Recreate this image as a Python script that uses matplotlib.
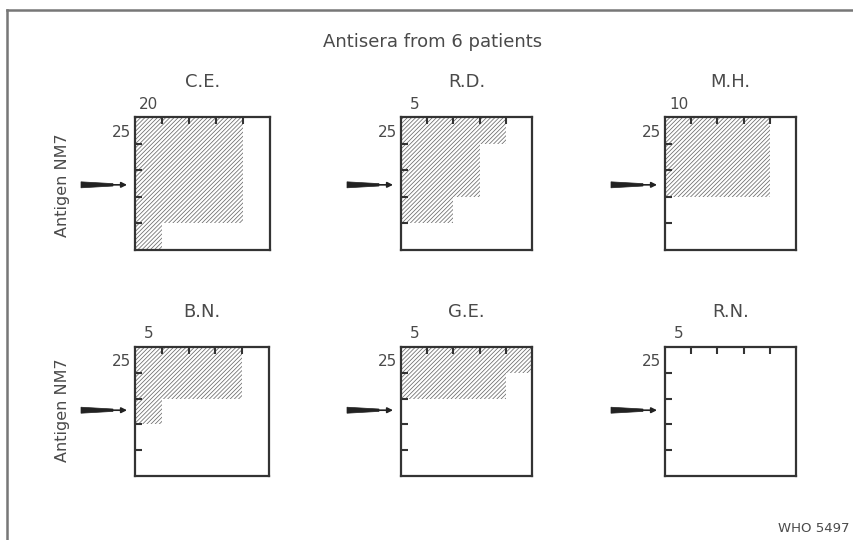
import matplotlib
matplotlib.use("Agg")
import matplotlib.pyplot as plt
from matplotlib.patches import Polygon
from matplotlib.lines import Line2D
import numpy as np

# ---- data: number of positive columns in each row (top to bottom) ----
patients = ["C.E.", "R.D.", "M.H.", "B.N.", "G.E.", "R.N."]
top_labels = ["20", "5", "10", "5", "5", "5"]
left_label = "25"
CE = [4, 4, 4, 4, 1]
RD = [4, 3, 3, 2, 0]
MH = [4, 4, 4, 0, 0]
BN = [4, 4, 1, 0, 0]
GE = [5, 4, 0, 0, 0]
RN = [0, 0, 0, 0, 0]
positives = [CE, RD, MH, BN, GE, RN]
arrow_row = [2.55, 2.55, 2.55, 2.45, 2.45, 2.45]

W, H = 854, 540
plt.rcParams['hatch.linewidth'] = 0.55
fig = plt.figure(figsize=(W / 100, H / 100), dpi=100)
fig.patch.set_facecolor("white")

TXT = "#4a4a4a"
INK = "#333333"

# frame (left and top edges visible)
fig.add_artist(Line2D([7.5 / W, 7.5 / W], [0, 1 - 10 / H], transform=fig.transFigure,
                      color="#777777", lw=1.8))
fig.add_artist(Line2D([7.5 / W, 1], [1 - 10 / H, 1 - 10 / H], transform=fig.transFigure,
                      color="#777777", lw=1.8))

fig.text(433 / W, 1 - 42 / H, "Antisera from 6 patients", ha="center", va="center",
         fontsize=13, color=TXT)
fig.text(814 / W, 1 - 528 / H, "WHO 5497", ha="center", va="center",
         fontsize=9.5, color=TXT)

# box positions in pixels: left, top, right, bottom
boxes = [(135, 117, 270, 250), (401, 117, 532, 250), (665, 117, 796, 250),
         (135, 347, 269, 476), (401, 347, 532, 476), (665, 347, 796, 476)]

for i, (name, vals, (l, t, r, b)) in enumerate(zip(patients, positives, boxes)):
    w, h = r - l, b - t
    ax = fig.add_axes([l / W, 1 - b / H, w / W, h / H])
    ax.set_xlim(0, 5)
    ax.set_ylim(5, 0)
    rows = np.arange(5) + 0.5
    ax.barh(rows, vals, height=1.0, left=0, facecolor="none", edgecolor="#6a6a6a",
            hatch="////////", linewidth=0)
    for s in ax.spines.values():
        s.set_linewidth(1.6)
        s.set_color(INK)
    ax.xaxis.tick_top()
    ax.set_xticks([1, 2, 3, 4])
    ax.set_yticks([1, 2, 3, 4])
    ax.tick_params(axis="both", direction="in", length=5, width=1.5, color=INK,
                   labeltop=False, labelleft=False, labelbottom=False)
    ax.text(14 / w, 1 + 13 / h, top_labels[i], transform=ax.transAxes,
            ha="center", va="center", fontsize=11, color=TXT)
    ax.text(-4 / w, 1 - 15 / h, left_label, transform=ax.transAxes,
            ha="right", va="center", fontsize=11, color=TXT)
    ax.text(0.5, 1 + 35 / h, name, transform=ax.transAxes,
            ha="center", va="center", fontsize=13, color=TXT)
    # arrow
    ya = arrow_row[i]
    ux = 5 / w  # data units per pixel (x)
    uy = 5 / h
    x0 = -54 * ux
    x1 = -22 * ux
    poly = Polygon([(x0, ya - 3.0 * uy), (x0, ya + 3.0 * uy),
                    (x1, ya + 1.2 * uy), (x1, ya - 1.2 * uy)],
                   closed=True, facecolor="#222222", edgecolor="#222222", lw=0.5,
                   clip_on=False)
    ax.add_patch(poly)
    ax.annotate("", xy=(-8 * ux, ya), xytext=(x1 - 1 * ux, ya),
                arrowprops=dict(arrowstyle="-|>", lw=1.2, color="#222222",
                                mutation_scale=8, shrinkA=0, shrinkB=0),
                annotation_clip=False)
    if i % 3 == 0:
        ax.text(-73 / w, 1 - ya / 5, "Antigen NM7", transform=ax.transAxes,
                rotation=90, ha="center", va="center", fontsize=11.5, color=TXT)

fig.savefig("out.png", dpi=100)
